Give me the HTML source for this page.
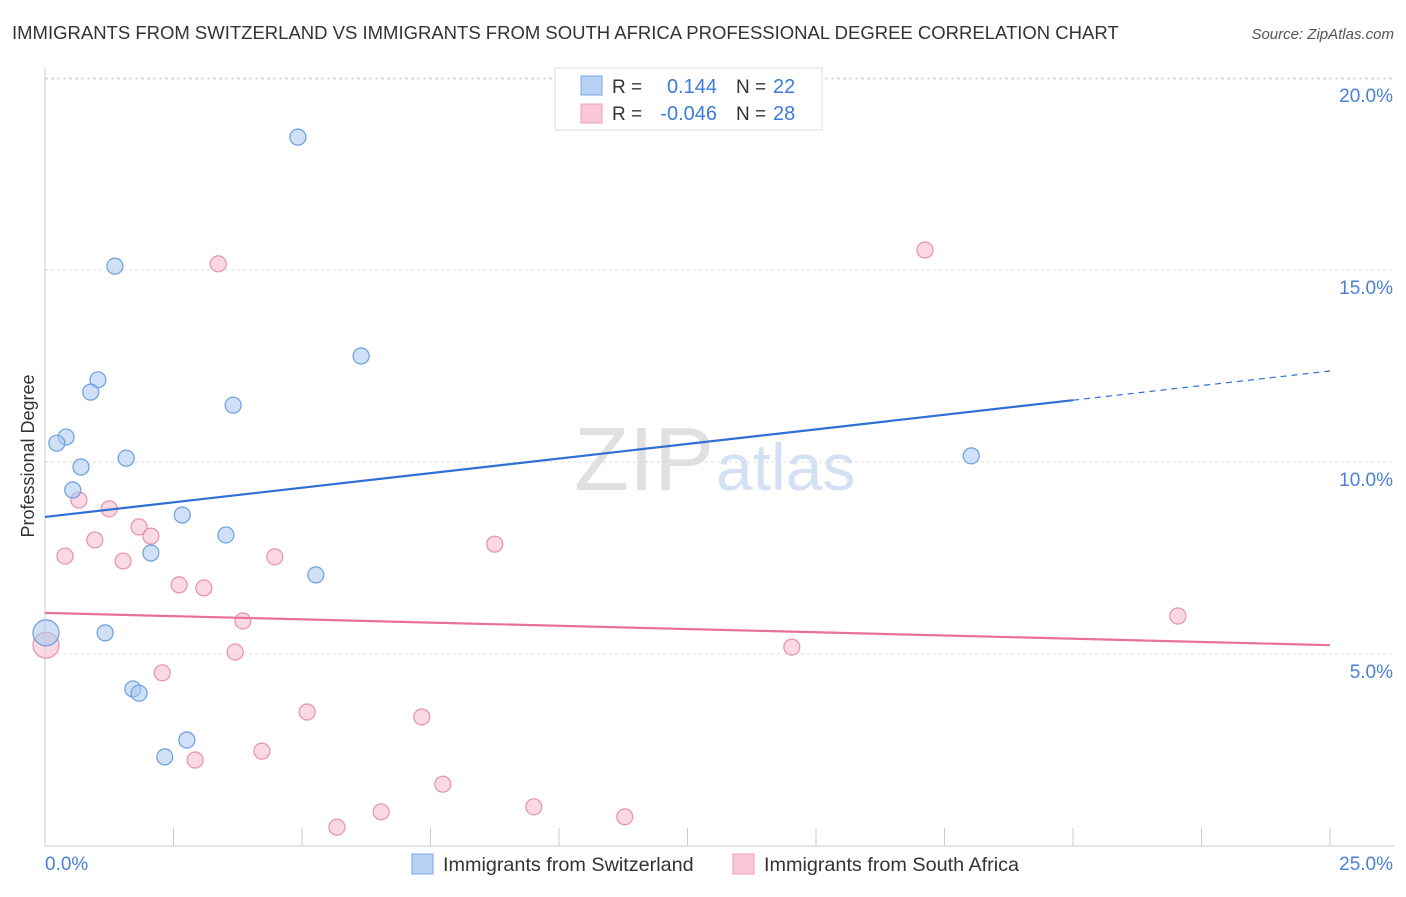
<!DOCTYPE html>
<html><head><meta charset="utf-8"><style>
body{margin:0;background:#fff;font-family:"Liberation Sans",sans-serif;}
svg text{font-family:"Liberation Sans",sans-serif;}
</style></head><body>
<svg id="c" width="1406" height="892" viewBox="0 0 1406 892">
<text x="12" y="39" font-size="18.5" fill="#333">IMMIGRANTS FROM SWITZERLAND VS IMMIGRANTS FROM SOUTH AFRICA PROFESSIONAL DEGREE CORRELATION CHART</text>
<text x="1394" y="39" font-size="15" fill="#555" font-style="italic" text-anchor="end">Source: ZipAtlas.com</text>
<text x="34" y="456" font-size="18" fill="#333" transform="rotate(-90 34 456)" text-anchor="middle">Professional Degree</text>
<text x="714" y="490" font-size="90" fill="#e0e0e0" font-family="Liberation Serif" text-anchor="end">ZIP</text>
<text x="716" y="490" font-size="66" fill="#d4e0f4">atlas</text>
<g id="grid"></g><g id="marks"></g>
<g>
<rect x="555" y="68" width="267" height="62" fill="#fff" stroke="#ddd"/>
<rect x="581" y="76" width="21" height="19" fill="#b8d2f4" stroke="#7aa7e4"/>
<rect x="581" y="104" width="21" height="19" fill="#f9c7d6" stroke="#ec9db6"/>
<text x="612" y="93" font-size="19" fill="#333">R = </text><text x="717" y="93" font-size="20" fill="#3d7bd8" text-anchor="end">0.144</text>
<text x="736" y="93" font-size="19" fill="#333">N = </text><text x="773" y="93" font-size="20" fill="#3d7bd8">22</text>
<text x="612" y="120" font-size="19" fill="#333">R = </text><text x="717" y="120" font-size="20" fill="#3d7bd8" text-anchor="end">-0.046</text>
<text x="736" y="120" font-size="19" fill="#333">N = </text><text x="773" y="120" font-size="20" fill="#3d7bd8">28</text>
</g>
<g>
<rect x="412" y="854" width="21" height="20" fill="#b8d2f4" stroke="#7aa7e4"/>
<text x="443" y="871" font-size="19.8" fill="#333">Immigrants from Switzerland</text>
<rect x="733" y="854" width="21" height="20" fill="#f9c7d6" stroke="#ec9db6"/>
<text x="764" y="871" font-size="19.8" fill="#333">Immigrants from South Africa</text>
</g>
</svg>
<script>
const blueX=[4.92,1.36,6.15,1.03,0.89,3.66,0.41,0.23,1.58,0.70,0.54,2.67,3.52,2.06,5.27,1.17,0.02,1.71,1.83,2.76,2.33,18.02];
const blueY=[18.46,15.10,12.76,12.14,11.82,11.48,10.65,10.49,10.10,9.87,9.27,8.62,8.10,7.63,7.06,5.55,5.55,4.09,3.98,2.76,2.32,10.16];
const pinkX=[3.37,17.12,0.66,1.25,1.83,2.06,0.97,0.39,4.47,1.52,8.75,2.61,3.09,3.85,22.04,3.70,14.53,0.02,2.28,5.10,7.33,4.22,2.92,7.74,9.51,6.54,11.28,5.68];
const pinkY=[15.16,15.52,9.01,8.78,8.31,8.07,7.97,7.55,7.53,7.42,7.86,6.80,6.72,5.86,5.99,5.05,5.18,5.23,4.51,3.49,3.36,2.47,2.24,1.61,1.02,0.89,0.76,0.49];
const blueTrend=[8.57,12.37];
const pinkTrend=[6.07,5.23];
const yTicks=[5,10,15,20];
const yTickLabels=["5.0%","10.0%","15.0%","20.0%"];
const xTickLabels=["0.0%","25.0%"];
const sx=v=>45+v*51.4, sy=v=>846-v*38.4;
const NS="http://www.w3.org/2000/svg";
function mk(t,a,p){const e=document.createElementNS(NS,t);for(const k in a)e.setAttribute(k,a[k]);p.appendChild(e);return e;}
const g=document.getElementById('grid'), m=document.getElementById('marks');
yTicks.forEach((t,i)=>{
 const l=mk('line',{x1:45,x2:1394,y1:sy(t),y2:sy(t),stroke:'#ddd','stroke-dasharray':'3,3'},g);
 
 
 const tx=mk('text',{x:1393,y:sy(t)+24,'font-size':19,fill:'#4a7fd8','text-anchor':'end'},g);tx.textContent=yTickLabels[i];
 
 
});
mk('line',{x1:45,x2:1394,y1:79,y2:79,stroke:'#ddd','stroke-dasharray':'3,3'},g);
mk('line',{x1:45,x2:45,y1:68,y2:846,stroke:'#ccc'},g);
mk('line',{x1:45,x2:1394,y1:846,y2:846,stroke:'#ccc'},g);
for(let i=0;i<=10;i++){mk('line',{x1:sx(i*2.5),x2:sx(i*2.5),y1:828,y2:846,stroke:'#ccc'},g);}
xTickLabels.forEach((s,i)=>{const tx=mk('text',{x:i?1393:45,y:870,'font-size':19,fill:'#4a7fd8','text-anchor':i?'end':'start'},g);tx.textContent=s;
 
 });
function dots(X,Y,fill,stroke,name){X.forEach((x,i)=>{const r=x<0.1?13:8;
 const c=mk('circle',{cx:sx(x),cy:sy(Y[i]),r:r,fill:fill,'fill-opacity':0.55,stroke:stroke,'stroke-width':1.2},m);
 
 });}
dots(pinkX,pinkY,'#f7b9cb','#e890ab','south-africa-point');
dots(blueX,blueY,'#a9c8f0','#6a9ee0','switzerland-point');
const bAt=x=>blueTrend[0]+(blueTrend[1]-blueTrend[0])*x/25;
let l=mk('line',{x1:sx(0),y1:sy(bAt(0)),x2:sx(20),y2:sy(bAt(20)),stroke:'#2f6fd6','stroke-width':2.2},m);


l=mk('line',{x1:sx(20),y1:sy(bAt(20)),x2:sx(25),y2:sy(bAt(25)),stroke:'#2f6fd6','stroke-width':1.2,'stroke-dasharray':'6,5'},m);


l=mk('line',{x1:sx(0),y1:sy(pinkTrend[0]),x2:sx(25),y2:sy(pinkTrend[1]),stroke:'#e8709a','stroke-width':2.2},m);


</script>
</body></html>
